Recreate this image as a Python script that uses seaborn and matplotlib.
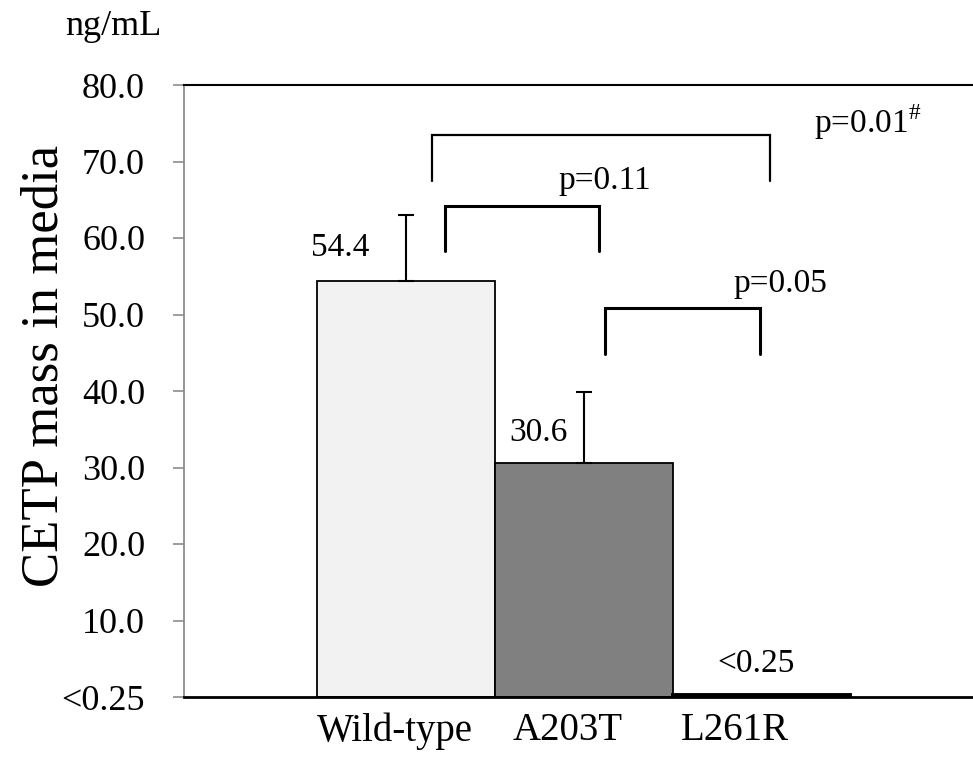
import seaborn as sns
import matplotlib.pyplot as plt
import matplotlib.transforms as mtransforms
import pandas as pd

groups = ["Wild-type", "A203T", "L261R"]
means = [54.4, 30.6, 0.25]
upper_err = [8.6, 9.3, 0.0]
bar_colors = ["#f2f2f2", "#808080", "#000000"]
value_labels = ["54.4", "30.6", "<0.25"]
y_ticks = [0, 10, 20, 30, 40, 50, 60, 70, 80]
y_tick_labels = ["<0.25", "10.0", "20.0", "30.0", "40.0", "50.0", "60.0", "70.0", "80.0"]

sns.set_theme(style="white")
plt.rcParams["font.family"] = ["Liberation Serif", "DejaVu Serif"]
plt.rcParams["mathtext.fontset"] = "custom"
plt.rcParams["mathtext.rm"] = "Liberation Serif"
plt.rcParams["text.color"] = "black"
plt.rcParams["xtick.color"] = "black"
plt.rcParams["ytick.color"] = "black"

df = pd.DataFrame({"group": groups, "mean": means})

fig = plt.figure(figsize=(9.73, 7.59), dpi=100)
ax = fig.add_axes([184 / 973, 1 - 697 / 759, 1 - 184 / 973, (697 - 85) / 759])

sns.barplot(
    data=df,
    x="group",
    y="mean",
    hue="group",
    palette=bar_colors,
    edgecolor="black",
    linewidth=1.3,
    width=1.0,
    errorbar=None,
    legend=False,
    ax=ax
)
# the L261R bar shows as a thick black line
ax.patches[2].set_linewidth(2.8)

# upper error bars only
ax.errorbar(
    [0, 1],
    means[:2],
    yerr=[[0, 0], upper_err[:2]],
    fmt="none",
    ecolor="black",
    elinewidth=1.5,
    capsize=6,
    capthick=1.5
)

ax.set_xlim(-1.25, 3.19)
ax.set_ylim(0, 80)
ax.set_yticks(y_ticks)
ax.set_yticklabels(y_tick_labels)
ax.set_xlabel("")
ax.set_ylabel("")

ax.tick_params(axis="y", labelsize=26, length=8, width=1.2, pad=20,
               left=True, color="#8c8c8c", labelcolor="black")
ax.tick_params(axis="x", labelsize=28, length=0, pad=11, labelcolor="black")

# x labels sit a little left of the bar centres
shifts = [-8, -12, -19]
for lab, dx in zip(ax.get_xticklabels(), shifts):
    lab.set_transform(lab.get_transform() +
                      mtransforms.ScaledTranslation(dx / 72, 0, fig.dpi_scale_trans))

ax.spines["left"].set_color("#8c8c8c")
ax.spines["left"].set_linewidth(1.3)
ax.spines["bottom"].set_color("black")
ax.spines["bottom"].set_linewidth(2.0)
ax.spines["top"].set_color("black")
ax.spines["top"].set_linewidth(1.5)
ax.spines["right"].set_visible(False)

# value labels
label_pos = [(-0.372, 57.6), (0.745, 33.5), (1.97, 3.3)]
for (x, y), txt in zip(label_pos, value_labels):
    ax.text(x, y, txt, ha="center", va="baseline", fontsize=24)

# significance brackets
brackets = [
    (0.146, 2.045, 73.5, 67.5, 1.6),
    (0.22, 1.087, 64.2, 58.3, 2.2),
    (1.12, 1.99, 50.8, 44.8, 2.2),
]
for x1, x2, ytop, ybot, lw in brackets:
    ax.plot([x1, x1, x2, x2], [ybot, ytop, ytop, ybot], color="black",
            lw=lw, solid_joinstyle="miter", clip_on=False)

ax.text(2.293, 73.7, r"p=0.01$^{\#}$", ha="left", va="baseline", fontsize=24)
ax.text(1.118, 66.4, "p=0.11", ha="center", va="baseline", fontsize=24)
ax.text(2.107, 52.9, "p=0.05", ha="center", va="baseline", fontsize=24)

fig.text(65 / 973, 1 - 35 / 759, "ng/mL", ha="left", va="baseline", fontsize=26)
fig.text(45 / 973, 1 - 366 / 759, "CETP mass in media", rotation=90,
         ha="center", va="center", fontsize=38)

fig.savefig("out.png", dpi=100)
